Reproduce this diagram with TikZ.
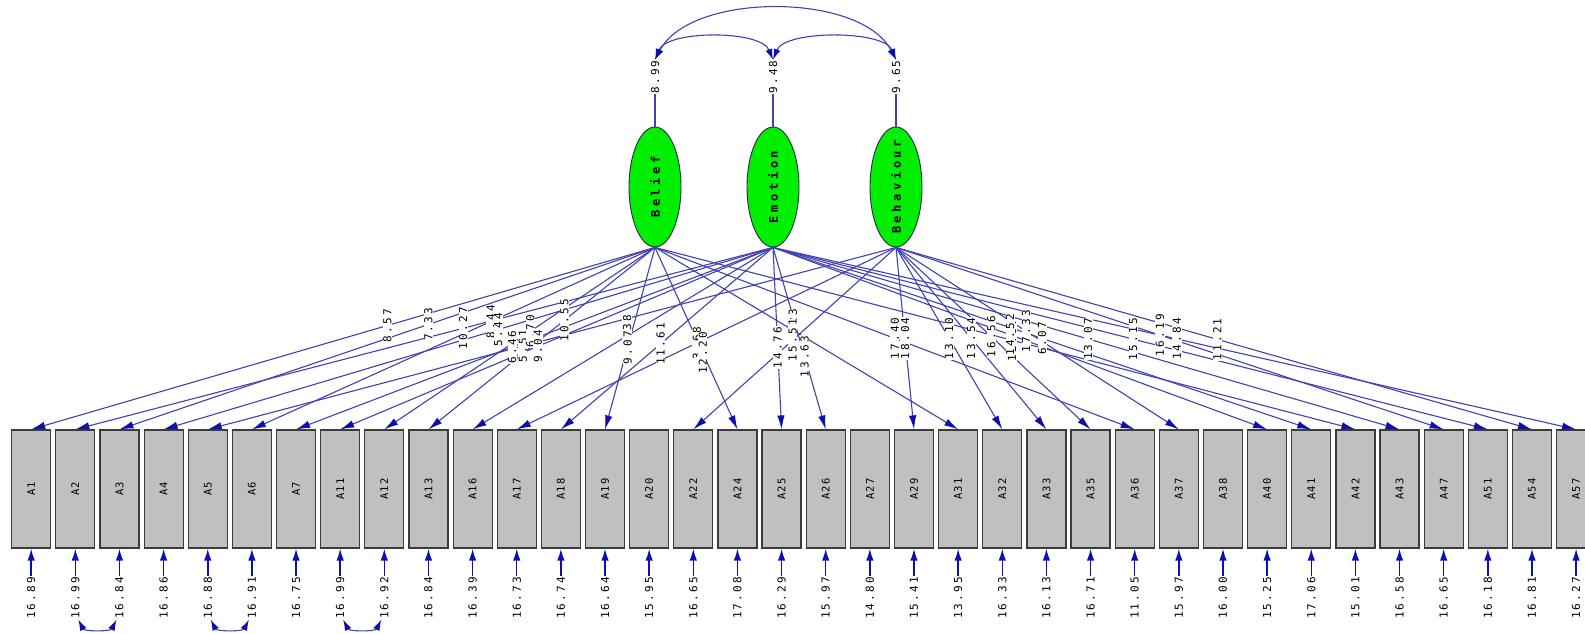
\documentclass[tikz,border=0pt]{standalone}
\usepackage{fontspec}
\usepackage{graphicx}
\usetikzlibrary{arrows.meta,shapes.geometric}
\newfontfamily\lis[LetterSpace=20]{DejaVu Sans Mono}
\newfontfamily\lisb[LetterSpace=30]{DejaVu Sans Mono}
\newfontfamily\lisa[LetterSpace=12]{DejaVu Sans Mono}
\definecolor{linecol}{RGB}{65,65,180}
\definecolor{tipcol}{RGB}{15,15,175}
\definecolor{boxfill}{RGB}{192,192,192}
\definecolor{boxdraw}{RGB}{60,60,60}
\definecolor{latfill}{RGB}{0,238,0}
\definecolor{latdraw}{RGB}{40,40,70}
\begin{document}
\begin{tikzpicture}[x=1pt,y=-1pt,
  obs/.style={draw=boxdraw, fill=boxfill, line width=1.2pt, minimum width=39pt, minimum height=118pt, inner sep=0pt, font=\lisa\fontsize{10.5}{12}\selectfont},
  lat/.style={ellipse, draw=latdraw, fill=latfill, line width=0.9pt, minimum width=52pt, minimum height=120pt, inner sep=0pt},
  factorname/.style={inner sep=0pt, font=\lisb\bfseries\fontsize{12}{14}\selectfont},
  val/.style={fill=white, inner sep=0.4pt, font=\lis\fontsize{11}{13}\selectfont},
  errval/.style={inner sep=0.4pt, font=\lis\fontsize{11}{13}\selectfont},
  load/.style={draw=linecol, line width=1.1pt, -{Latex[length=14pt,width=7.5pt,color=tipcol]}},
  errarr/.style={draw=tipcol, line width=1.5pt, -{Latex[length=12pt,width=7.5pt,color=tipcol]}},
  cov/.style={draw=linecol, line width=1.1pt, {Latex[length=11pt,width=7pt,color=tipcol]}-{Latex[length=11pt,width=7pt,color=tipcol]}},
  varline/.style={draw=linecol, line width=1.1pt}
]
\useasboundingbox (0,0) rectangle (1585,633);
\fill[white] (0,0) rectangle (1585,633);

% latent variables
\node[lat, label={[factorname]center:\rotatebox{90}{Belief}}] (Bel) at (655,187) {};
\node[lat, label={[factorname]center:\rotatebox{90}{Emotion}}] (Emo) at (773,187) {};
\node[lat, label={[factorname]center:\rotatebox{90}{Behaviour}}] (Beh) at (896,187) {};

% variances
\node[errval] (v1) at (655,77) {\rotatebox{90}{8.99}};
\node[errval] (v2) at (773,77) {\rotatebox{90}{9.48}};
\node[errval] (v3) at (896,77) {\rotatebox{90}{9.65}};
\draw[varline] (Bel.north) -- (v1.south);
\draw[varline] (Emo.north) -- (v2.south);
\draw[varline] (Beh.north) -- (v3.south);
\draw[cov] (v1.north) .. controls +(12,-30) and +(-12,-30) .. (v2.north);
\draw[cov] (v2.north) .. controls +(12,-30) and +(-12,-30) .. (v3.north);
\draw[cov] (v1.north) .. controls +(35,-68) and +(-35,-68) .. (v3.north);

% observed variables
\foreach \n [count=\i from 0] in {1,2,3,4,5,6,7,11,12,13,16,17,18,19,20,22,24,25,26,27,29,31,32,33,35,36,37,38,40,41,42,43,47,51,54,57}
  \node[obs] (A\n) at ({31.2+44.14*\i},489) {\rotatebox{90}{A\n}};

% error terms
\foreach \n/\v [count=\i from 0] in {1/16.89,2/16.99,3/16.84,4/16.86,5/16.88,6/16.91,7/16.75,11/16.99,12/16.92,13/16.84,16/16.39,17/16.73,18/16.74,19/16.64,20/15.95,22/16.65,24/17.08,25/16.29,26/15.97,27/14.80,29/15.41,31/13.95,32/16.33,33/16.13,35/16.71,36/11.05,37/15.97,38/16.00,40/15.25,41/17.06,42/15.01,43/16.58,47/16.65,51/16.18,54/16.81,57/16.27}
{
  \node[errval] (e\n) at ({31.2+44.14*\i},598) {\rotatebox{90}{\v}};
  \draw[errarr] (e\n.north) -- (A\n.south);
}

% error covariances
\draw[cov] ([xshift=3pt]e2.south) .. controls +(6,12) and +(-6,12) .. ([xshift=-3pt]e3.south);
\draw[cov] ([xshift=3pt]e5.south) .. controls +(6,12) and +(-6,12) .. ([xshift=-3pt]e6.south);
\draw[cov] ([xshift=3pt]e11.south) .. controls +(6,12) and +(-6,12) .. ([xshift=-3pt]e12.south);

% loadings
\foreach \f/\b in {Bel/1,Emo/2,Bel/3,Emo/4,Beh/5,Bel/6,Emo/7,Emo/11,Bel/12,Bel/13,Emo/16,Beh/17,Emo/18,Bel/19,Beh/22,Bel/24,Emo/25,Emo/26,Beh/29,Bel/31,Beh/32,Beh/33,Beh/35,Bel/36,Beh/37,Emo/40,Emo/41,Bel/42,Emo/43,Beh/47,Emo/51,Beh/54,Emo/57}
  \draw[load] (\f.south) -- (A\b.north);

% loading values
\foreach \f/\b/\t/\v in {Bel/31/0.455/13.23,Bel/42/0.51/12.97,Emo/16/0.486/12.38,
  Bel/1/0.429/8.57,Emo/2/0.444/10.27,Bel/3/0.423/7.33,Bel/6/0.408/8.44,Emo/4/0.451/5.44,
  Emo/7/0.547/6.46,Beh/5/0.542/5.51,Bel/12/0.46/6.70,Emo/11/0.543/9.04,Bel/13/0.40/10.55,
  Bel/19/0.55/9.07,Emo/18/0.53/11.61,Beh/17/0.525/3.68,Bel/24/0.58/12.20,
  Emo/25/0.55/14.76,Beh/22/0.51/15.51,Emo/26/0.60/13.63,
  Bel/36/0.5/17.40,Beh/29/0.5/18.04,Beh/32/0.5/13.10,Beh/33/0.5/13.54,Beh/35/0.49/16.56,
  Emo/40/0.48/14.52,Beh/37/0.46/17.33,Emo/41/0.5/6.07,Emo/43/0.503/13.07,Emo/51/0.504/15.15,
  Beh/47/0.482/16.19,Emo/57/0.503/14.84,Beh/54/0.505/11.21}
  \path (\f.south) -- (A\b.north) node[val, pos=\t] {\rotatebox{90}{\v}};
\end{tikzpicture}
\end{document}
